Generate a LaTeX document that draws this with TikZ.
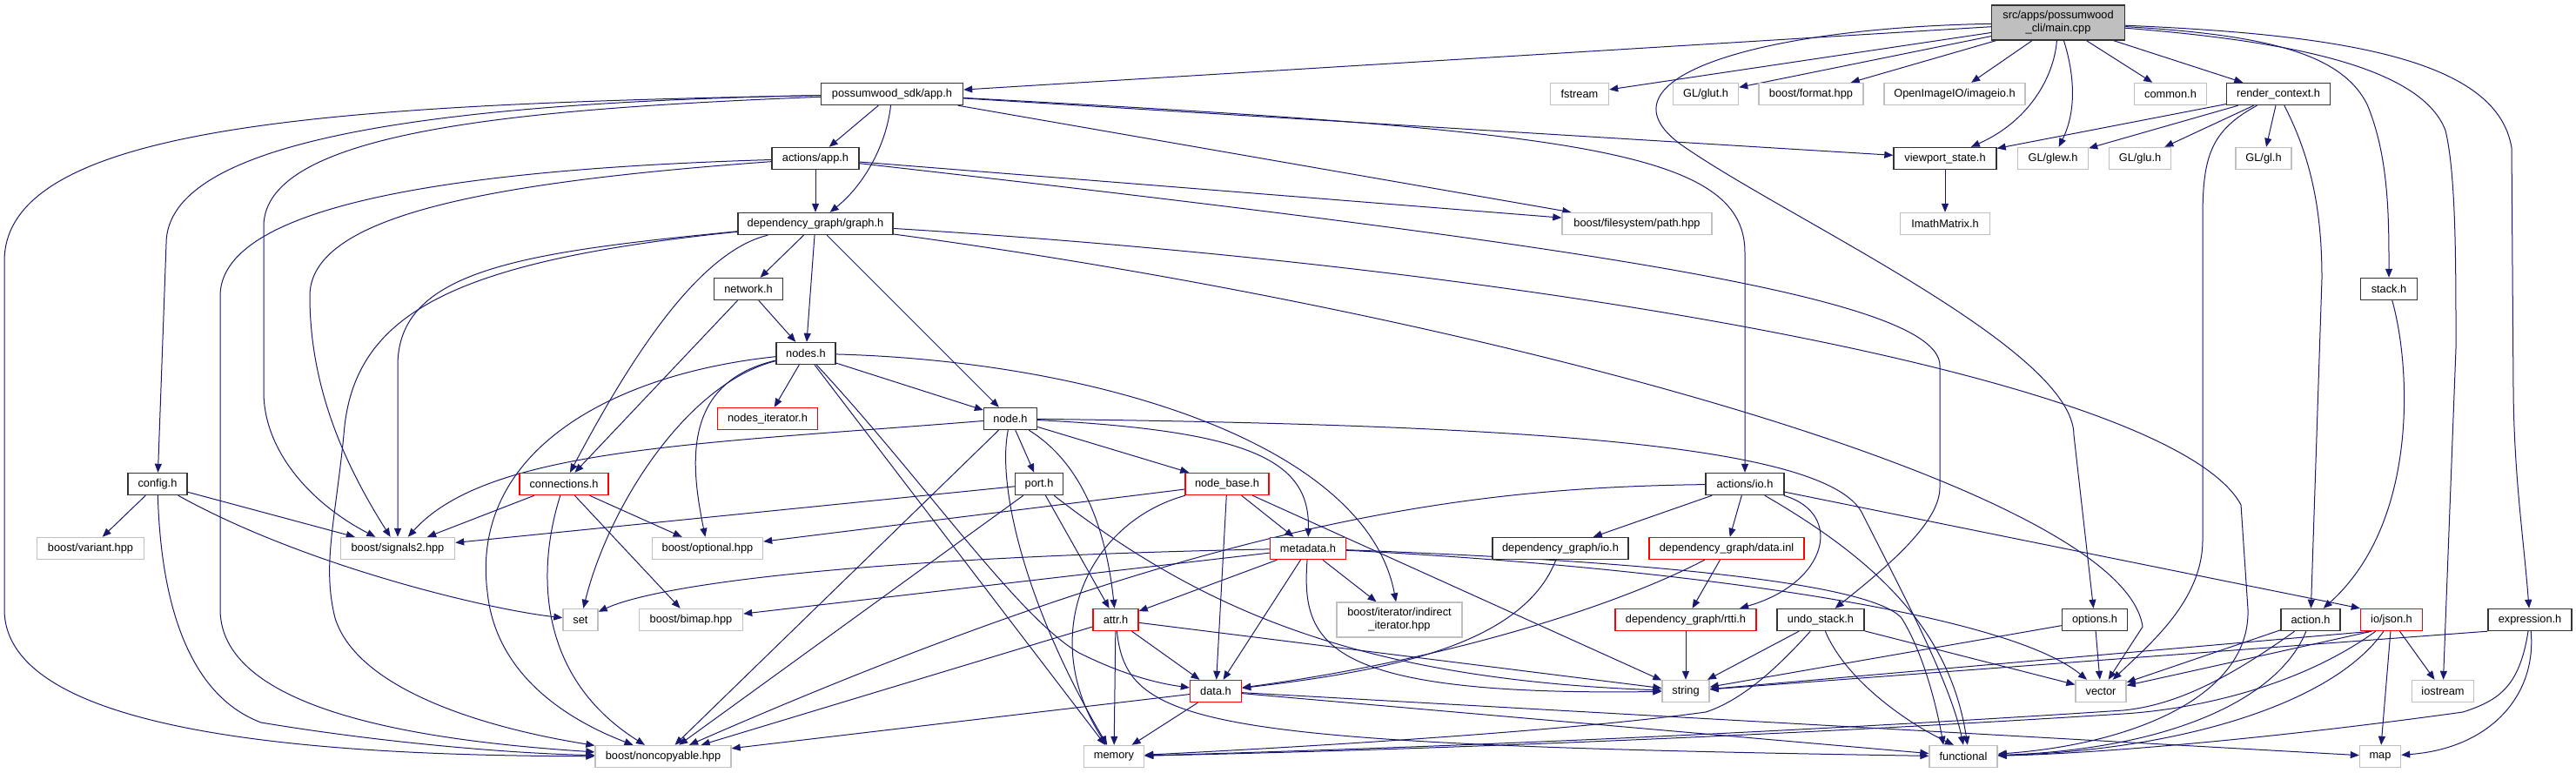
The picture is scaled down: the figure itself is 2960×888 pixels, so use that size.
\documentclass[tikz,border=0pt]{standalone}
\usepackage{fontspec}
\setmainfont{Liberation Sans}
\usetikzlibrary{arrows.meta,positioning,backgrounds}
\definecolor{edgeblue}{HTML}{191970}
\definecolor{extgray}{HTML}{BFBFBF}
\tikzset{
  hfile/.style={draw=black!80,fill=white,line width=1.4pt,minimum height=25,
    inner sep=2pt,align=center,font=\fontsize{12.8}{15}\selectfont},
  extfile/.style={hfile,draw=extgray},
  redfile/.style={hfile,draw=red},
  mainfile/.style={hfile,fill=extgray,minimum height=40},
  incl/.style={-{Triangle[length=10pt,width=8pt]},draw=edgeblue,line width=1pt}
}
\begin{document}
\begin{tikzpicture}[x=1pt,y=-1pt]
  \useasboundingbox (0,0) rectangle (2960,888);
  \node[mainfile,minimum width=153] (main) at (2365,26) {src/apps/possumwood\\\_cli/main.cpp};
  \node[hfile,minimum width=163] (sdkapp) at (1025,108) {possumwood\_sdk/app.h};
  \node[extfile,minimum width=67] (fstream) at (1815,108) {fstream};
  \node[extfile,minimum width=75] (glut) at (1960,108) {GL/glut.h};
  \node[extfile,minimum width=120] (format) at (2081,108) {boost/format.hpp};
  \node[extfile,minimum width=162] (imageio) at (2246,108) {OpenImageIO/imageio.h};
  \node[extfile,minimum width=83] (common) at (2494,108) {common.h};
  \node[hfile,minimum width=119] (renderctx) at (2618,108) {render\_context.h};
  \node[hfile,minimum width=100] (actapp) at (937,182) {actions/app.h};
  \node[hfile,minimum width=118] (viewport) at (2235,182) {viewport\_state.h};
  \node[extfile,minimum width=81] (glew) at (2359,182) {GL/glew.h};
  \node[extfile,minimum width=71] (glu) at (2459,182) {GL/glu.h};
  \node[extfile,minimum width=64] (gl) at (2601,182) {GL/gl.h};
  \node[hfile,minimum width=178] (graph) at (937,257) {dependency\_graph/graph.h};
  \node[extfile,minimum width=172] (fspath) at (1881,257) {boost/filesystem/path.hpp};
  \node[extfile,minimum width=103] (imath) at (2235,257) {ImathMatrix.h};
  \node[hfile,minimum width=79] (network) at (860,332) {network.h};
  \node[hfile,minimum width=65] (stack) at (2745,332) {stack.h};
  \node[hfile,minimum width=68] (nodes) at (926,406) {nodes.h};
  \node[redfile,minimum width=115] (nodesit) at (882,481) {nodes\_iterator.h};
  \node[hfile,minimum width=61] (node) at (1161,481) {node.h};
  \node[hfile,minimum width=68] (config) at (181,556) {config.h};
  \node[redfile,minimum width=102] (conn) at (648,556) {connections.h};
  \node[hfile,minimum width=55] (port) at (1194,556) {port.h};
  \node[redfile,minimum width=96] (nodebase) at (1410,556) {node\_base.h};
  \node[hfile,minimum width=90] (actio) at (2005,556) {actions/io.h};
  \node[extfile,minimum width=123] (variant) at (104,630) {boost/variant.hpp};
  \node[extfile,minimum width=131] (signals) at (457,630) {boost/signals2.hpp};
  \node[extfile,minimum width=127] (optional) at (813,630) {boost/optional.hpp};
  \node[redfile,minimum width=87] (metadata) at (1503,630) {metadata.h};
  \node[hfile,minimum width=156] (dgio) at (1793,630) {dependency\_graph/io.h};
  \node[redfile,minimum width=178] (dgdata) at (1984,630) {dependency\_graph/data.inl};
  \node[extfile,minimum width=40] (set) at (667,712) {set};
  \node[extfile,minimum width=119] (bimap) at (794,712) {boost/bimap.hpp};
  \node[redfile,minimum width=52] (attr) at (1282,712) {attr.h};
  \node[extfile,minimum width=144,minimum height=40] (indirect) at (1608,712) {boost/iterator/indirect\\\_iterator.hpp};
  \node[redfile,minimum width=162] (rtti) at (1937,712) {dependency\_graph/rtti.h};
  \node[hfile,minimum width=100] (undo) at (2092,712) {undo\_stack.h};
  \node[hfile,minimum width=75] (options) at (2407,712) {options.h};
  \node[hfile,minimum width=68] (action) at (2655,712) {action.h};
  \node[redfile,minimum width=71] (json) at (2748,712) {io/json.h};
  \node[hfile,minimum width=96] (expression) at (2907,712) {expression.h};
  \node[redfile,minimum width=59] (data) at (1397,794) {data.h};
  \node[extfile,minimum width=54] (string) at (1937,794) {string};
  \node[extfile,minimum width=58] (vector) at (2414,794) {vector};
  \node[extfile,minimum width=71] (iostream) at (2807,794) {iostream};
  \node[extfile,minimum width=156] (noncopy) at (762,869) {boost/noncopyable.hpp};
  \node[extfile,minimum width=69] (memory) at (1280,869) {memory};
  \node[extfile,minimum width=78] (functional) at (2256,869) {functional};
  \node[extfile,minimum width=47] (map) at (2735,869) {map};
  \begin{scope}[on background layer]
  \draw[incl] (main) -- (sdkapp);
  \draw[incl] (main) -- (fstream);
  \draw[incl] (main) -- (glut);
  \draw[incl] (main) -- (format);
  \draw[incl] (main) -- (imageio);
  \draw[incl] (main) .. controls (2360,90) and (2330,140) .. (viewport);
  \draw[incl] (main) .. controls (2385,90) and (2385,130) .. (glew);
  \draw[incl] (main) -- (common);
  \draw[incl] (main) -- (renderctx);
  \draw[incl] (main) .. controls (2600,40) and (2690,60) .. (2720,120) .. controls (2745,180) and (2745,250) .. (stack);
  \draw[incl] (main) .. controls (2600,45) and (2780,70) .. (2810,150) .. controls (2822,200) and (2822,300) .. (2822,400) -- (iostream);
  \draw[incl] (main) .. controls (2700,40) and (2870,70) .. (2886,170) -- (2888,450) .. controls (2889,550) and (2900,620) .. (expression);
  \draw[incl] (main) .. controls (2020,32) and (1830,90) .. (1930,165) .. controls (2050,250) and (2383,400) .. (2383,500) -- (options);
  \draw[incl] (sdkapp) -- (actapp);
  \draw[incl] (sdkapp) .. controls (1018,170) and (990,215) .. (graph);
  \draw[incl] (sdkapp) -- (fspath);
  \draw[incl] (sdkapp) -- (viewport);
  \draw[incl] (sdkapp) .. controls (1800,150) and (2005,170) .. (2005,290) -- (actio);
  \draw[incl] (sdkapp) .. controls (500,118) and (191,160) .. (191,280) -- (config);
  \draw[incl] (sdkapp) .. controls (400,120) and (5,140) .. (5,300) -- (5,700) .. controls (5,850) and (400,868) .. (noncopy);
  \draw[incl] (sdkapp) .. controls (600,125) and (303,150) .. (303,260) -- (303,450) .. controls (303,520) and (360,580) .. (signals);
  \draw[incl] (actapp) -- (graph);
  \draw[incl] (actapp) -- (fspath);
  \draw[incl] (actapp) .. controls (1800,280) and (2229,340) .. (2229,420) -- (2229,560) .. controls (2229,600) and (2170,650) .. (undo);
  \draw[incl] (actapp) .. controls (500,195) and (253,240) .. (253,340) -- (253,700) .. controls (253,820) and (500,852) .. (noncopy);
  \draw[incl] (actapp) .. controls (550,210) and (356,250) .. (356,340) .. controls (356,450) and (400,540) .. (signals);
  \draw[incl] (graph) -- (network);
  \draw[incl] (graph) -- (nodes);
  \draw[incl] (graph) -- (node);
  \draw[incl] (graph) .. controls (520,300) and (405,360) .. (395,500) .. controls (385,600) and (370,650) .. (385,710) .. controls (410,790) and (550,835) .. (noncopy);
  \draw[incl] (graph) .. controls (600,290) and (457,310) .. (457,420) -- (signals);
  \draw[incl] (graph) .. controls (800,290) and (720,420) .. (conn);
  \draw[incl] (graph) .. controls (1700,360) and (2440,560) .. (2462,720) -- (vector);
  \draw[incl] (graph) .. controls (1800,310) and (2500,440) .. (2575,580) -- (2583,700) .. controls (2586,800) and (2450,855) .. (functional);
  \draw[incl] (network) -- (nodes);
  \draw[incl] (network) -- (conn);
  \draw[incl] (nodes) -- (nodesit);
  \draw[incl] (nodes) -- (node);
  \draw[incl] (nodes) .. controls (1260,415) and (1570,510) .. (indirect);
  \draw[incl] (nodes) -- (memory);
  \draw[incl] (nodes) .. controls (1060,550) and (1170,710) .. (1240,750) .. controls (1290,775) and (1330,785) .. (data);
  \draw[incl] (nodes) .. controls (700,430) and (540,520) .. (560,680) .. controls (570,780) and (660,830) .. (noncopy);
  \draw[incl] (nodes) .. controls (780,440) and (795,540) .. (optional);
  \draw[incl] (nodes) .. controls (790,440) and (700,580) .. (set);
  \draw[incl] (node) -- (port);
  \draw[incl] (node) -- (nodebase);
  \draw[incl] (node) .. controls (800,510) and (560,515) .. (signals);
  \draw[incl] (node) -- (noncopy);
  \draw[incl] (node) .. controls (1145,560) and (1180,700) .. (memory);
  \draw[incl] (node) .. controls (1240,530) and (1270,600) .. (attr);
  \draw[incl] (node) .. controls (1440,495) and (1505,530) .. (metadata);
  \draw[incl] (node) .. controls (1750,488) and (2100,510) .. (2140,590) .. controls (2180,670) and (2240,780) .. (functional.north);
  \draw[incl] (nodebase) -- (metadata);
  \draw[incl] (nodebase) -- (optional);
  \draw[incl] (nodebase) .. controls (1250,600) and (1190,730) .. (memory);
  \draw[incl] (nodebase) -- (data);
  \draw[incl] (nodebase) -- (string);
  \draw[incl] (port) -- (signals);
  \draw[incl] (port) -- (noncopy);
  \draw[incl] (port) -- (attr);
  \draw[incl] (port) .. controls (1380,700) and (1560,780) .. (string);
  \draw[incl] (metadata) .. controls (1000,640) and (760,670) .. (set);
  \draw[incl] (metadata) -- (bimap);
  \draw[incl] (metadata) -- (attr);
  \draw[incl] (metadata) -- (data);
  \draw[incl] (metadata) -- (indirect);
  \draw[incl] (metadata) .. controls (1495,740) and (1520,800) .. (string);
  \draw[incl] (metadata) .. controls (1900,650) and (2300,700) .. (vector);
  \draw[incl] (metadata) .. controls (1900,645) and (2150,670) .. (2185,710) .. controls (2210,750) and (2225,810) .. (functional.150);
  \draw[incl] (attr) -- (data);
  \draw[incl] (attr) -- (memory);
  \draw[incl] (attr) -- (noncopy);
  \draw[incl] (attr) -- (string);
  \draw[incl] (attr) .. controls (1295,835) and (1380,855) .. (functional);
  \draw[incl] (data) -- (memory);
  \draw[incl] (data) -- (noncopy);
  \draw[incl] (data) -- (functional);
  \draw[incl] (data) -- (map);
  \draw[incl] (conn) -- (signals);
  \draw[incl] (conn) .. controls (615,660) and (620,780) .. (noncopy);
  \draw[incl] (conn) -- (bimap);
  \draw[incl] (conn) -- (optional);
  \draw[incl] (config) -- (variant);
  \draw[incl] (config) -- (signals);
  \draw[incl] (config) .. controls (350,650) and (560,700) .. (set);
  \draw[incl] (config) .. controls (185,700) and (220,800) .. (300,830) .. controls (450,855) and (600,866) .. (noncopy);
  \draw[incl] (actio) -- (dgio);
  \draw[incl] (actio) -- (dgdata);
  \draw[incl] (actio) .. controls (2120,590) and (2100,670) .. (rtti.12);
  \draw[incl] (actio) .. controls (1700,560) and (1400,590) .. (noncopy);
  \draw[incl] (actio) -- (json.north west);
  \draw[incl] (actio) .. controls (2150,640) and (2240,720) .. (functional.70);
  \draw[incl] (dgio) .. controls (1750,740) and (1600,770) .. (data);
  \draw[incl] (dgdata) .. controls (1850,700) and (1650,760) .. (data);
  \draw[incl] (dgdata) -- (rtti);
  \draw[incl] (rtti) -- (string);
  \draw[incl] (undo) -- (string);
  \draw[incl] (undo) .. controls (2040,770) and (2000,805) .. (1960,818) .. controls (1800,840) and (1500,858) .. (memory);
  \draw[incl] (undo) .. controls (2120,780) and (2190,830) .. (functional.130);
  \draw[incl] (undo) -- (vector);
  \draw[incl] (options) -- (string);
  \draw[incl] (options) -- (vector);
  \draw[incl] (action) -- (vector);
  \draw[incl] (action) .. controls (2560,780) and (2500,810) .. (2440,816) .. controls (2000,845) and (1600,860) .. (memory);
  \draw[incl] (action) .. controls (2620,800) and (2500,860) .. (functional);
  \draw[incl] (json.210) -- (vector);
  \draw[incl] (json.210) -- (string);
  \draw[incl] (json) .. controls (2640,790) and (2520,815) .. (2440,820) .. controls (2000,848) and (1600,862) .. (memory);
  \draw[incl] (json) .. controls (2680,810) and (2500,862) .. (functional);
  \draw[incl] (json) -- (map);
  \draw[incl] (json) -- (iostream);
  \draw[incl] (expression.south west) -- (string);
  \draw[incl] (expression) .. controls (2895,790) and (2870,805) .. (2830,818) .. controls (2600,850) and (2400,866) .. (functional);
  \draw[incl] (expression) .. controls (2915,800) and (2860,860) .. (map);
  \draw[incl] (renderctx) -- (viewport);
  \draw[incl] (renderctx) -- (glew);
  \draw[incl] (renderctx) -- (glu);
  \draw[incl] (renderctx) -- (gl);
  \draw[incl] (renderctx) .. controls (2540,150) and (2531,180) .. (2531,250) -- (2531,620) .. controls (2531,690) and (2470,740) .. (vector);
  \draw[incl] (renderctx) .. controls (2655,180) and (2668,240) .. (2668,320) -- (action);
  \draw[incl] (viewport) -- (imath);
  \draw[incl] (stack) .. controls (2770,420) and (2780,600) .. (action);
  \end{scope}
\end{tikzpicture}
\end{document}
